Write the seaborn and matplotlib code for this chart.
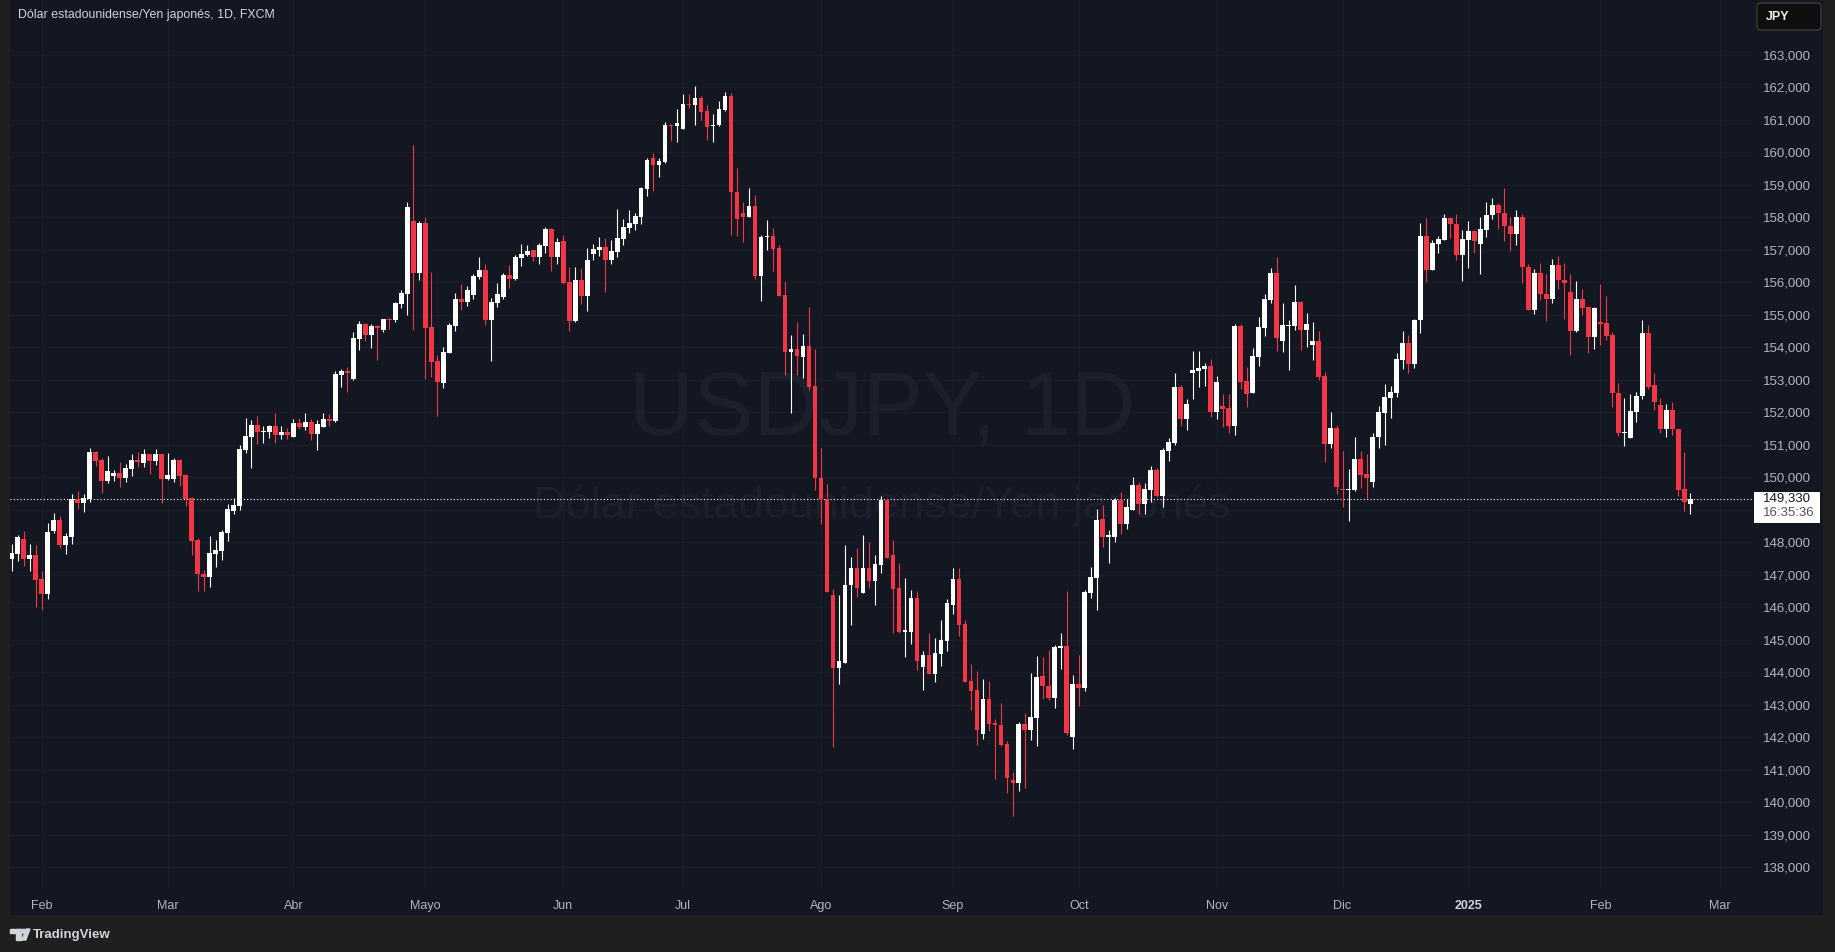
import numpy as np
import pandas as pd
import seaborn as sns
import matplotlib.pyplot as plt
from matplotlib.patches import Rectangle, FancyBboxPatch, Polygon, Circle
from matplotlib.transforms import IdentityTransform

# USD/JPY daily candles, 25 Jan 2024 -> 24 Feb 2025 (FXCM, no bar on 25 Dec / 1 Jan)
OPEN = [
    147.48, 147.64, 148.10, 147.48, 147.61, 146.87, 146.41, 148.35, 148.68, 147.91,
    148.16, 149.33, 149.21, 149.33, 150.78, 150.53, 149.88, 150.04, 150.13, 149.98,
    150.25, 150.53, 150.44, 150.71, 150.50, 150.71, 149.95, 149.95, 150.53, 150.07,
    149.36, 148.07, 147.02, 146.93, 147.64, 147.74, 148.28, 148.95, 149.11, 150.84,
    151.24, 151.61, 151.39, 151.39, 151.58, 151.30, 151.39, 151.24, 151.67, 151.55,
    151.70, 151.33, 151.55, 151.79, 151.73, 153.15, 153.27, 153.02, 154.25, 154.71,
    154.38, 154.65, 154.53, 154.87, 154.84, 155.33, 155.64, 157.88, 156.28, 157.82,
    154.62, 153.58, 152.90, 153.82, 154.65, 155.48, 155.39, 155.61, 156.16, 156.38,
    154.84, 155.36, 155.55, 156.22, 156.10, 156.75, 156.84, 156.99, 156.78, 157.12,
    157.64, 156.78, 157.27, 156.01, 154.81, 156.07, 155.58, 156.87, 156.99, 157.08,
    156.68, 156.93, 157.33, 157.67, 157.79, 158.01, 158.87, 159.81, 159.61, 159.70,
    160.84, 160.79, 160.71, 161.48, 161.46, 161.68, 161.27, 160.79, 160.82, 161.31,
    161.72, 158.78, 158.13, 158.01, 158.34, 156.19, 157.38, 157.42, 157.04, 155.60,
    153.85, 153.93, 153.70, 154.05, 152.79, 149.97, 149.33, 146.38, 144.14, 144.29,
    146.68, 147.20, 146.45, 147.22, 146.82, 147.31, 149.30, 147.59, 146.60, 145.25,
    145.25, 146.29, 144.17, 144.54, 143.93, 144.57, 144.97, 146.08, 146.88, 145.49,
    143.74, 143.46, 142.11, 143.16, 142.45, 142.39, 141.80, 140.69, 140.60, 142.42,
    142.23, 142.60, 143.89, 143.59, 143.22, 144.73, 144.82, 142.01, 143.64, 143.51,
    146.44, 146.90, 148.71, 148.17, 148.16, 149.30, 148.56, 148.99, 149.76, 149.18,
    149.61, 150.22, 149.42, 150.81, 151.05, 152.78, 151.79, 153.21, 153.27, 153.33,
    153.42, 152.01, 152.19, 152.13, 151.58, 154.65, 152.96, 152.59, 153.70, 154.59,
    155.45, 156.28, 154.20, 154.66, 154.66, 155.40, 154.54, 154.08, 154.20, 153.12,
    151.03, 151.52, 149.62, 149.59, 149.59, 150.57, 150.11, 149.86, 151.22, 151.96,
    152.45, 152.60, 153.59, 154.14, 153.49, 154.82, 157.43, 156.36, 157.16, 157.31,
    157.96, 157.80, 156.85, 157.31, 157.56, 157.16, 157.59, 158.06, 158.36, 158.14,
    157.74, 157.48, 157.99, 156.48, 155.13, 156.29, 155.65, 155.47, 156.54, 156.08,
    155.71, 154.49, 155.49, 155.22, 154.30, 154.78, 154.73, 154.36, 152.60, 151.35,
    151.20, 151.99, 152.49, 154.45, 152.82, 152.23, 151.49, 152.08, 151.49, 149.65,
    149.16,
]
HIGH = [
    147.95, 148.22, 148.35, 147.95, 147.91, 147.11, 148.59, 148.90, 148.81, 148.28,
    149.48, 149.58, 149.48, 150.90, 150.81, 150.59, 150.65, 150.22, 150.47, 150.41,
    150.71, 150.77, 150.87, 150.71, 150.87, 150.71, 150.75, 150.59, 150.56, 150.10,
    149.39, 148.13, 147.15, 148.19, 148.07, 148.38, 149.18, 149.36, 150.99, 151.82,
    151.76, 151.88, 151.58, 151.61, 151.98, 151.58, 151.51, 151.79, 151.82, 151.98,
    151.79, 151.76, 151.98, 151.95, 153.27, 153.33, 153.39, 154.47, 154.81, 154.75,
    154.71, 154.68, 154.87, 154.90, 155.39, 155.76, 158.47, 160.22, 157.88, 158.01,
    156.31, 153.76, 154.01, 154.75, 155.67, 155.95, 155.88, 156.25, 156.78, 156.56,
    155.51, 155.98, 156.28, 156.53, 156.84, 157.18, 157.15, 156.99, 157.21, 157.70,
    157.67, 157.36, 157.45, 156.47, 156.47, 156.44, 157.05, 157.18, 157.39, 157.36,
    157.30, 158.25, 157.95, 158.22, 158.13, 158.93, 159.82, 159.97, 159.81, 160.93,
    160.88, 161.33, 161.78, 161.78, 162.02, 161.72, 161.46, 161.17, 161.58, 161.86,
    161.82, 159.50, 158.46, 158.89, 158.67, 157.44, 157.91, 157.66, 157.14, 156.04,
    154.36, 154.76, 154.40, 155.25, 153.93, 150.91, 149.80, 146.56, 146.38, 147.91,
    147.55, 147.83, 148.23, 147.99, 147.62, 149.42, 149.36, 148.08, 147.37, 146.91,
    146.54, 146.51, 144.66, 145.19, 145.06, 145.59, 146.26, 147.19, 147.22, 145.59,
    144.26, 144.05, 143.80, 143.74, 142.57, 143.06, 141.89, 140.94, 142.48, 142.73,
    143.96, 144.51, 144.48, 144.69, 144.85, 145.22, 146.51, 143.91, 144.53, 146.53,
    147.24, 149.02, 149.15, 148.38, 149.36, 149.55, 149.33, 150.01, 149.85, 149.82,
    150.35, 150.28, 150.90, 151.21, 153.21, 152.84, 152.41, 153.88, 153.88, 153.51,
    153.64, 153.11, 152.56, 152.56, 154.71, 154.71, 153.39, 153.98, 154.93, 155.64,
    156.44, 156.78, 155.37, 154.82, 155.92, 155.43, 155.06, 154.76, 154.51, 153.25,
    151.99, 151.59, 150.79, 150.26, 151.25, 150.79, 150.72, 151.37, 152.20, 152.88,
    152.79, 153.83, 154.51, 154.36, 154.88, 157.83, 157.96, 157.31, 157.43, 158.11,
    157.99, 158.11, 157.59, 157.89, 157.59, 157.99, 158.45, 158.58, 158.42, 158.91,
    157.99, 158.23, 158.11, 156.57, 156.39, 156.60, 156.26, 156.72, 156.79, 156.60,
    156.26, 156.02, 155.80, 155.24, 155.25, 155.93, 155.56, 154.48, 152.91, 152.45,
    152.57, 152.63, 154.82, 154.69, 153.19, 152.42, 152.26, 152.32, 151.49, 150.76,
    149.52,
]
LOW = [
    147.10, 147.42, 147.28, 147.11, 146.01, 145.92, 146.25, 148.28, 147.82, 147.64,
    147.95, 149.02, 148.93, 149.24, 150.35, 149.51, 149.82, 149.88, 149.70, 149.85,
    150.04, 150.31, 150.31, 150.10, 150.38, 149.21, 149.91, 149.85, 149.73, 149.11,
    147.61, 146.50, 146.50, 146.62, 147.24, 147.46, 148.04, 148.88, 148.99, 150.75,
    150.28, 151.02, 151.05, 151.21, 151.05, 151.18, 151.18, 151.24, 151.48, 151.45,
    151.15, 150.84, 151.55, 151.58, 151.70, 152.78, 152.62, 152.99, 153.91, 154.19,
    153.98, 153.61, 154.47, 154.56, 154.78, 155.21, 154.99, 154.53, 156.07, 153.02,
    153.08, 151.88, 152.75, 153.82, 154.50, 155.15, 155.27, 155.48, 156.10, 154.68,
    153.58, 155.24, 155.48, 155.82, 156.07, 156.50, 156.81, 156.65, 156.56, 156.90,
    156.35, 156.56, 155.95, 154.50, 154.78, 155.33, 155.11, 156.68, 156.81, 155.70,
    156.56, 156.78, 157.15, 157.51, 157.61, 157.79, 158.65, 158.81, 159.24, 159.68,
    160.35, 160.31, 160.71, 161.35, 160.84, 160.99, 160.37, 160.31, 160.79, 161.28,
    157.46, 157.43, 157.22, 158.01, 156.11, 155.43, 156.99, 156.35, 155.57, 153.14,
    151.98, 153.14, 153.06, 152.69, 149.62, 148.55, 146.46, 141.71, 143.65, 144.29,
    145.44, 146.30, 146.45, 146.60, 146.08, 147.06, 147.52, 145.22, 145.22, 144.48,
    144.88, 144.08, 143.46, 143.93, 143.71, 144.20, 144.66, 145.80, 145.12, 143.71,
    142.85, 141.77, 141.95, 142.20, 140.72, 141.74, 140.29, 139.59, 140.33, 140.45,
    141.90, 141.74, 143.19, 143.13, 142.91, 144.11, 142.08, 141.64, 142.96, 143.42,
    146.28, 145.91, 147.85, 147.36, 148.01, 148.25, 148.41, 148.99, 148.87, 148.87,
    149.24, 149.39, 149.08, 150.50, 150.99, 151.58, 151.45, 152.41, 152.78, 152.81,
    151.85, 151.79, 151.55, 151.36, 151.30, 152.71, 152.16, 152.59, 153.42, 154.35,
    155.36, 153.88, 153.86, 153.31, 154.54, 153.92, 153.99, 153.59, 153.00, 150.48,
    150.91, 149.49, 149.09, 148.66, 149.56, 149.68, 149.37, 149.71, 150.91, 151.00,
    151.83, 152.48, 153.34, 153.19, 153.37, 154.45, 155.99, 156.36, 156.91, 157.31,
    157.37, 156.69, 156.05, 156.45, 156.91, 156.26, 157.40, 157.94, 157.63, 157.26,
    156.95, 157.13, 155.97, 155.13, 155.01, 155.44, 154.80, 155.37, 155.78, 154.86,
    153.75, 154.46, 154.98, 153.81, 153.93, 154.06, 154.21, 152.15, 151.26, 150.95,
    151.20, 151.69, 152.40, 152.72, 152.06, 151.37, 151.25, 151.29, 149.43, 148.95,
    148.88,
]
CLOSE = [
    147.67, 148.16, 147.48, 147.61, 146.85, 146.41, 148.31, 148.68, 147.91, 148.19,
    149.33, 149.21, 149.36, 150.78, 150.50, 149.88, 150.19, 150.13, 149.98, 150.28,
    150.53, 150.47, 150.71, 150.50, 150.71, 149.95, 150.07, 150.53, 150.04, 149.33,
    148.04, 147.02, 146.93, 147.67, 147.76, 148.31, 149.02, 149.15, 150.87, 151.27,
    151.61, 151.39, 151.42, 151.58, 151.30, 151.39, 151.30, 151.67, 151.55, 151.70,
    151.33, 151.64, 151.79, 151.73, 153.18, 153.27, 153.21, 154.28, 154.71, 154.38,
    154.65, 154.59, 154.87, 154.84, 155.36, 155.67, 158.31, 156.28, 157.82, 154.59,
    153.55, 152.93, 153.85, 154.68, 155.48, 155.39, 155.76, 156.19, 156.38, 154.84,
    155.39, 155.64, 156.22, 156.10, 156.78, 156.87, 156.96, 156.78, 157.15, 157.64,
    156.78, 157.24, 155.98, 154.81, 156.07, 155.58, 156.68, 157.02, 157.08, 156.68,
    156.96, 157.36, 157.70, 157.82, 158.04, 158.90, 159.76, 159.61, 159.72, 160.84,
    160.79, 160.89, 161.48, 161.46, 161.68, 161.24, 160.77, 160.84, 161.33, 161.72,
    158.78, 157.93, 158.01, 158.34, 156.19, 157.40, 157.42, 157.03, 155.57, 153.85,
    153.93, 153.73, 154.05, 152.77, 149.97, 149.33, 146.46, 144.14, 144.33, 146.68,
    147.20, 146.60, 147.22, 146.82, 147.34, 149.30, 147.52, 146.57, 145.25, 145.28,
    146.29, 144.33, 144.54, 143.93, 144.60, 145.00, 146.14, 146.88, 145.46, 143.71,
    143.43, 142.23, 143.16, 142.42, 142.36, 141.77, 140.75, 140.60, 142.42, 142.23,
    142.63, 143.86, 143.56, 143.22, 144.76, 144.82, 142.14, 143.64, 143.51, 146.47,
    146.93, 148.68, 148.16, 148.20, 149.30, 148.56, 149.08, 149.76, 149.18, 149.64,
    150.22, 149.42, 150.84, 151.08, 152.78, 151.79, 152.25, 153.30, 153.36, 153.42,
    152.01, 152.93, 152.10, 151.58, 154.65, 152.93, 152.56, 153.73, 154.62, 155.48,
    156.28, 154.28, 154.69, 154.69, 155.40, 154.54, 154.72, 154.20, 153.09, 151.03,
    151.52, 149.71, 149.59, 149.62, 150.57, 150.08, 149.96, 151.25, 151.99, 152.48,
    152.63, 153.62, 154.14, 153.49, 154.85, 157.43, 156.36, 157.19, 157.34, 157.96,
    157.80, 156.85, 157.34, 157.56, 157.28, 157.62, 158.08, 158.36, 158.12, 157.72,
    157.48, 157.99, 156.46, 155.13, 156.29, 155.63, 155.47, 156.54, 156.06, 155.97,
    154.49, 155.49, 155.20, 154.30, 155.19, 154.71, 154.34, 152.58, 151.35, 151.40,
    152.02, 152.51, 154.45, 152.78, 152.30, 151.49, 152.08, 151.47, 149.62, 149.23,
    149.33,
]
FIRST_DAY = "2024-01-25"
HOLIDAYS = ["2024-12-25", "2025-01-01"]
MONTH_LABELS = ["Feb", "Mar", "Abr", "Mayo", "Jun", "Jul", "Ago", "Sep",
                "Oct", "Nov", "Dic", "2025", "Feb", "Mar"]
PRICE_TICKS = list(range(138, 164))
LAST_PRICE = 149.330
LAST_TIME = "16:35:36"
TITLE = "Dólar estadounidense/Yen japonés, 1D, FXCM"
WM_SYMBOL = "USDJPY, 1D"
WM_NAME = "Dólar estadounidense/Yen japonés"

BG = "#131722"
FRAME = "#1f1f1f"
UP = "#ffffff"
DOWN = "#f23645"
TEXT = "#b2b5be"
GRID = "#191d28"
WATERMARK = "#1c202c"

sns.set_theme(style="dark")
plt.rcParams["font.family"] = ["Liberation Sans", "DejaVu Sans"]

W, H = 1835, 952
fig = plt.figure(figsize=(W / 100, H / 100), dpi=100, facecolor=FRAME)
pix = IdentityTransform()


def fy(y):
    # pixel row counted from the top -> display y
    return H - y


fig.add_artist(Rectangle((10, fy(915)), 1813, 915, transform=pix,
                         facecolor=BG, edgecolor="none", zorder=-1))

ax = fig.add_axes([10 / W, 1 - 888 / H, 1742 / W, 888 / H])
ax.set_facecolor(BG)

# trading calendar, extended a bit past the last bar for the time axis
days = pd.bdate_range(FIRST_DAY, "2025-03-31")
days = days[~days.isin(pd.to_datetime(HOLIDAYS))]

df = pd.DataFrame({"open": OPEN, "high": HIGH, "low": LOW, "close": CLOSE})
df["date"] = days[: len(df)]
df["x"] = np.arange(len(df))
df["high"] = df[["high", "open", "close"]].max(axis=1)
df["low"] = df[["low", "open", "close"]].min(axis=1)

up = df["close"] >= df["open"]
colors = np.where(up, UP, DOWN)
body_lo = np.minimum(df["open"], df["close"])
body_h = np.maximum((df["close"] - df["open"]).abs(), 0.035)

ax.vlines(df["x"], df["low"], df["high"], colors=colors, linewidth=0.8, zorder=3)
ax.bar(df["x"], body_h, bottom=body_lo, width=0.78, color=colors, linewidth=0, zorder=4)

# last price line + label
ax.axhline(LAST_PRICE, color="white", linewidth=0.8, linestyle=(0, (1, 2)), zorder=2)
trans = ax.get_yaxis_transform()
ax.add_patch(Rectangle((1.0012, LAST_PRICE - 0.74), 66 / 1742, 0.955, transform=trans,
                       facecolor="white", edgecolor="none", clip_on=False, zorder=6))
ax.text(1.0063, LAST_PRICE, f"{LAST_PRICE:.3f}".replace(".", ","), transform=trans,
        ha="left", va="center", fontsize=9.5, color="#131722", zorder=7, clip_on=False)
ax.text(1.0063, LAST_PRICE - 0.43, LAST_TIME, transform=trans,
        ha="left", va="center", fontsize=9.5, color="#50535e", zorder=7, clip_on=False)

# watermark
ax.text(882 / W, 1 - 435 / H, WM_SYMBOL, transform=fig.transFigure, ha="center",
        va="baseline", fontsize=64.5, color=WATERMARK, zorder=1)
ax.text(882 / W, 1 - 518 / H, WM_NAME, transform=fig.transFigure, ha="center",
        va="baseline", fontsize=32.5, color=WATERMARK, zorder=1)

# axes, ticks, grid
cal = pd.Series(np.arange(len(days)), index=days)
firsts = cal.groupby(cal.index.to_period("M")).first()
firsts = firsts[firsts.index >= pd.Period("2024-02", "M")][: len(MONTH_LABELS)]

ax.set_xlim(-0.284, 290.3)
ax.set_ylim(137.36, 164.68)
ax.set_xticks(firsts.values)
ax.set_xticklabels(MONTH_LABELS)
ax.yaxis.tick_right()
ax.set_yticks(PRICE_TICKS)
ax.set_yticklabels(["" if p == 149 else f"{p:.3f}".replace(".", ",") for p in PRICE_TICKS])
ax.tick_params(axis="y", length=0, pad=8, labelsize=9.5, labelcolor=TEXT)
ax.tick_params(axis="x", length=0, pad=8.5, labelsize=9, labelcolor=TEXT)
for lab in ax.get_xticklabels():
    if lab.get_text() == "2025":
        lab.set_fontweight("bold")
        lab.set_color("#d1d4dc")
ax.grid(True, color=GRID, linewidth=1)
ax.set_axisbelow(True)
ax.set(xlabel=None, ylabel=None)
sns.despine(ax=ax, left=True, bottom=True)

# header
fig.text(18 / W, 1 - 15 / H, TITLE, ha="left", va="center", fontsize=8.9, color="#d1d4dc")
fig.add_artist(FancyBboxPatch((1757, fy(30)), 64, 27, boxstyle="round,pad=0,rounding_size=4",
                              transform=pix, facecolor="#0e0e0e", edgecolor="#3b3b3b",
                              linewidth=1))
fig.text(1766 / W, 1 - 16.5 / H, "JPY", ha="left", va="center", fontsize=9,
         fontweight="bold", color="#ececec")

# footer logo + name
logo = "#d1d4dc"
fig.add_artist(Rectangle((10, fy(932.5)), 10.5, 3.5, transform=pix, color=logo))
fig.add_artist(Rectangle((15.5, fy(940)), 5, 11, transform=pix, color=logo))
fig.add_artist(Circle((23.6, fy(931.2)), 1.9, transform=pix, color=logo))
fig.add_artist(Polygon([(26.2, fy(929)), (30, fy(929)), (25.8, fy(940)), (22, fy(940))],
                       closed=True, transform=pix, color=logo))
fig.text(33 / W, 1 - 935 / H, "TradingView", ha="left", va="center", fontsize=9.5,
         fontweight="bold", color=logo)

plt.savefig("out.png", dpi=100, facecolor=FRAME)
plt.close()
